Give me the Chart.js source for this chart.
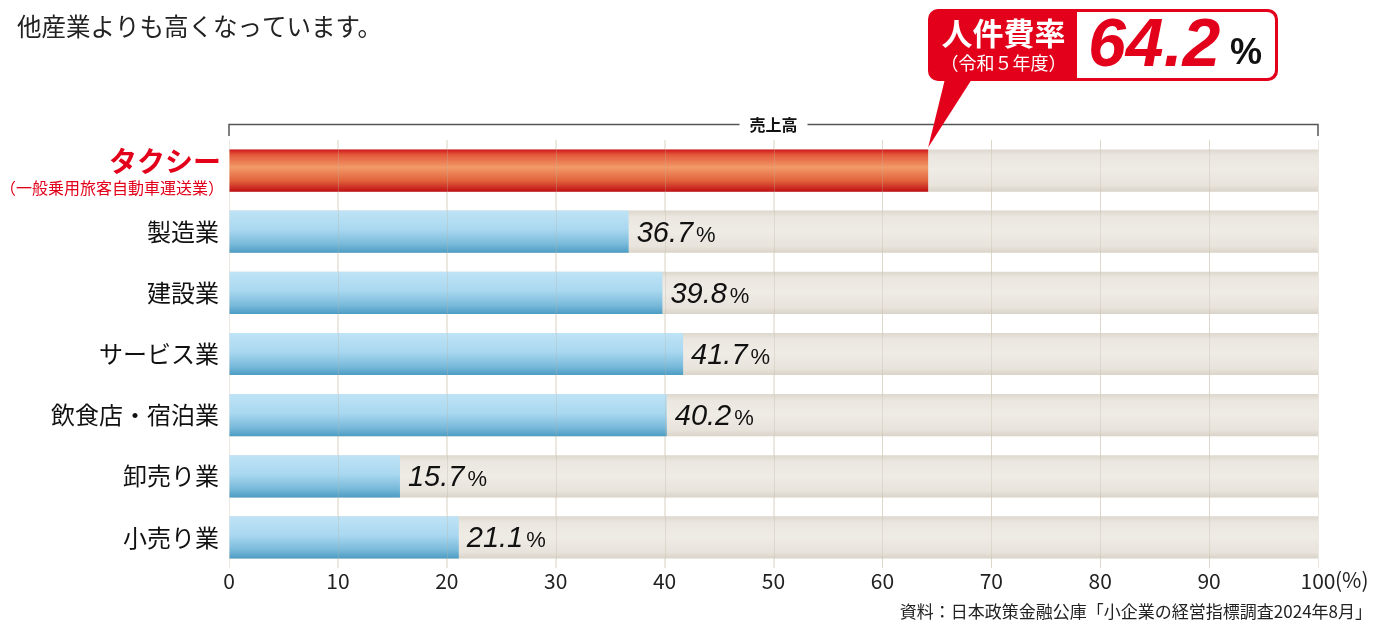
<!DOCTYPE html>
<html>
<head>
<meta charset="utf-8">
<script src="https://cdn.jsdelivr.net/npm/chart.js@4"></script>
<style>
  html, body { margin: 0; padding: 0; background: #fff; }
  #wrap { position: relative; width: 1396px; height: 625px; }
</style>
</head>
<body>
<div id="wrap"><canvas id="chart" width="1396" height="625"></canvas></div>
<script>
// data
const categories = ['タクシー', '製造業', '建設業', 'サービス業', '飲食店・宿泊業', '卸売り業', '小売り業'];
const laborRatio = [64.2, 36.7, 39.8, 41.7, 40.2, 15.7, 21.1];
const fullScale = [100, 100, 100, 100, 100, 100, 100];
const xTicks = [0, 10, 20, 30, 40, 50, 60, 70, 80, 90, 100];

const jp = '"Noto Sans CJK JP", "Noto Sans", sans-serif';
const RED = '#e2001a';
const BAR_PCT = 0.69;

function barBox(chart, i) {
  const y = chart.scales.y;
  if (!y) return null;
  const h = (y.bottom - y.top) / categories.length * BAR_PCT;
  const cy = y.getPixelForValue(i);
  if (!isFinite(h) || !isFinite(cy) || h <= 0) return null;
  return { top: cy - h / 2, bottom: cy + h / 2 };
}

function barFill(ctx) {
  const chart = ctx.chart;
  const b = chart.chartArea ? barBox(chart, ctx.dataIndex) : null;
  if (!b) return ctx.dataIndex === 0 ? '#e8704a' : '#a8d8f0';
  const g = chart.ctx.createLinearGradient(0, b.top, 0, b.bottom);
  if (ctx.dataIndex === 0) {
    g.addColorStop(0, '#d2141b');
    g.addColorStop(0.12, '#e2573a');
    g.addColorStop(0.42, '#f29a68');
    g.addColorStop(0.75, '#e0603a');
    g.addColorStop(1, '#bf0f16');
  } else {
    g.addColorStop(0, '#bfe3f6');
    g.addColorStop(0.45, '#a9d8f0');
    g.addColorStop(0.8, '#78b9da');
    g.addColorStop(1, '#4c9cc3');
  }
  return g;
}

function trackFill(ctx) {
  const chart = ctx.chart;
  const b = chart.chartArea ? barBox(chart, ctx.dataIndex) : null;
  if (!b) return '#ece8e1';
  const g = chart.ctx.createLinearGradient(0, b.top, 0, b.bottom);
  g.addColorStop(0, '#ddd7cd');
  g.addColorStop(0.15, '#ebe7e0');
  g.addColorStop(0.5, '#efebe5');
  g.addColorStop(0.85, '#e8e3db');
  g.addColorStop(1, '#d9d3c8');
  return g;
}

const overlay = {
  id: 'overlay',
  afterDatasetsDraw(chart) {
    const c = chart.ctx;
    const x = chart.scales.x;
    const area = chart.chartArea;
    c.save();
    // faint grid over the bars
    c.strokeStyle = 'rgba(190,180,160,0.3)';
    c.lineWidth = 1;
    xTicks.slice(1, -1).forEach(v => {
      const px = Math.round(x.getPixelForValue(v)) + 0.5;
      c.beginPath(); c.moveTo(px, area.top); c.lineTo(px, area.bottom); c.stroke();
    });
    // value labels
    laborRatio.forEach((v, i) => {
      if (i === 0) return;
      const px = x.getPixelForValue(v) + 8;
      const py = chart.scales.y.getPixelForValue(i) + 2;
      c.fillStyle = '#111';
      c.textBaseline = 'middle';
      c.textAlign = 'left';
      c.font = 'italic 29px "Liberation Sans", Arial, sans-serif';
      const s = v.toFixed(1);
      c.fillText(s, px, py);
      const w = c.measureText(s).width;
      c.font = '22px "Liberation Sans", Arial, sans-serif';
      c.fillText('%', px + w + 3, py + 2);
    });
    c.restore();
  },
  afterDraw(chart) {
    const c = chart.ctx;
    const x = chart.scales.x;
    const y = chart.scales.y;
    c.save();

    // intro text
    c.fillStyle = '#222';
    c.font = '24.5px ' + jp;
    c.textBaseline = 'middle';
    c.textAlign = 'left';
    c.fillText('他産業よりも高くなっています。', 17, 27);

    // taxi label
    const ty = y.getPixelForValue(0);
    c.textAlign = 'right';
    c.fillStyle = RED;
    c.font = 'bold 28px ' + jp;
    c.fillText('タクシー', 221, ty - 9);
    c.font = '16px ' + jp;
    c.fillText('（一般乗用旅客自動車運送業）', 224, ty + 17);

    // 売上高 bracket
    const x0 = x.getPixelForValue(0), x1 = x.getPixelForValue(100);
    const by = 124.5;
    c.strokeStyle = '#555';
    c.lineWidth = 1.5;
    c.beginPath();
    c.moveTo(x0, 136); c.lineTo(x0, by); c.lineTo(x1, by); c.lineTo(x1, 136);
    c.stroke();
    c.font = 'bold 16px ' + jp;
    c.textAlign = 'center';
    const mid = (x0 + x1) / 2;
    const lw = c.measureText('売上高').width;
    c.fillStyle = '#fff';
    c.fillRect(mid - lw / 2 - 10, by - 10, lw + 20, 20);
    c.fillStyle = '#111';
    c.fillText('売上高', mid, by);

    // x axis unit
    c.font = '21px ' + jp;
    c.textAlign = 'left';
    c.fillStyle = '#222';
    c.fillText('(%)', x1 + 17, 580);

    // source
    c.font = '17px ' + jp;
    c.textAlign = 'right';
    c.fillText('資料：日本政策金融公庫「小企業の経営指標調査2024年8月」', 1372, 612);

    // callout
    const tipX = x.getPixelForValue(laborRatio[0]);
    const bb = barBox(chart, 0);
    const tipY = (bb ? bb.top : 150) - 2;
    const bx = 928, bt = 9, bw = 350, bh = 72, r = 10, split = 1077;
    c.fillStyle = RED;
    c.beginPath();
    c.moveTo(945, bt + bh - 2);
    c.lineTo(tipX, tipY);
    c.lineTo(972, bt + bh - 2);
    c.closePath();
    c.fill();
    c.beginPath();
    c.roundRect(bx, bt, bw, bh, r);
    c.fill();
    c.fillStyle = '#fff';
    c.beginPath();
    c.roundRect(split, bt + 3, bx + bw - split - 3, bh - 6, [0, 8, 8, 0]);
    c.fill();
    c.textAlign = 'center';
    c.font = 'bold 31px ' + jp;
    c.fillText('人件費率', (bx + split) / 2 + 1, 33);
    c.font = '18px ' + jp;
    c.fillText('（令和５年度）', (bx + split) / 2 + 1, 63);
    c.textAlign = 'left';
    c.fillStyle = RED;
    c.font = 'italic bold 68px "Liberation Sans", Arial, sans-serif';
    c.fillText('64.2', 1088, 47);
    c.fillStyle = '#111';
    c.font = 'bold 36px "Liberation Sans", Arial, sans-serif';
    c.fillText('%', 1230, 54);

    c.restore();
  }
};

new Chart(document.getElementById('chart'), {
  type: 'bar',
  data: {
    labels: categories,
    datasets: [
      {
        label: 'track',
        data: fullScale,
        backgroundColor: trackFill,
        grouped: false,
        order: 2,
        barPercentage: BAR_PCT,
        categoryPercentage: 1
      },
      {
        label: '人件費率',
        data: laborRatio,
        backgroundColor: barFill,
        grouped: false,
        order: 1,
        barPercentage: BAR_PCT,
        categoryPercentage: 1
      }
    ]
  },
  options: {
    indexAxis: 'y',
    responsive: false,
    animation: false,
    events: [],
    layout: { padding: { top: 140, right: 78, left: 0, bottom: 0 } },
    plugins: { legend: { display: false }, tooltip: { enabled: false } },
    scales: {
      x: {
        min: 0,
        max: 100,
        afterBuildTicks: s => { s.ticks = xTicks.map(v => ({ value: v })); },
        grid: { color: '#ece8df', drawTicks: false },
        border: { display: false },
        ticks: {
          padding: 0,
          color: '#222',
          font: { family: jp, size: 21 }
        },
        afterFit: s => { s.height = 57; }
      },
      y: {
        grid: { display: false },
        border: { display: false },
        ticks: {
          padding: 2,
          color: '#111',
          font: { family: jp, size: 24 },
          callback: (v, i) => i === 0 ? '' : categories[i]
        },
        afterFit: s => { s.width = 229; }
      }
    }
  },
  plugins: [overlay]
});
</script>
</body>
</html>
